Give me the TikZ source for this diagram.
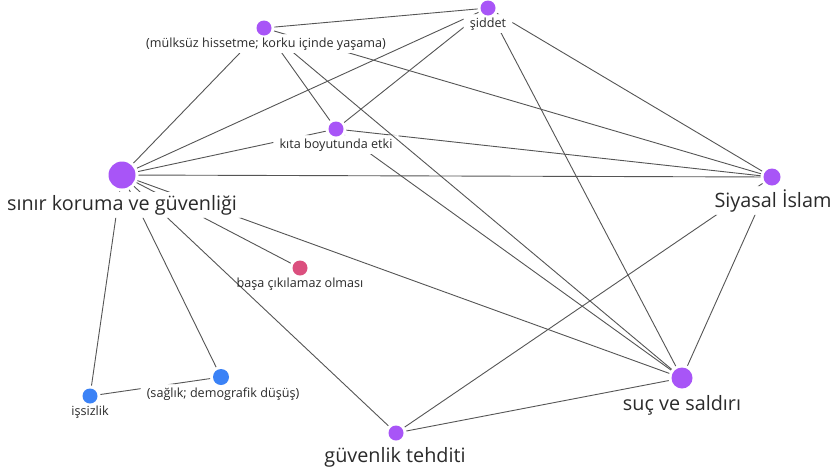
\documentclass[tikz,border=0pt]{standalone}
\usepackage{fontspec}
\setmainfont{Open Sans}
\usetikzlibrary{backgrounds}
\definecolor{cpurple}{HTML}{A855F7}
\definecolor{cpink}{HTML}{DB4F7E}
\definecolor{cblue}{HTML}{3B82F6}
\definecolor{cedge}{HTML}{555555}
\definecolor{ctext}{HTML}{2A2A2A}
\begin{document}
\begin{tikzpicture}[x=1pt,y=-1pt,
  dot/.style={circle,fill=#1,inner sep=0pt,draw=none,outer sep=3pt},
  lab/.style={anchor=base,inner xsep=6pt,inner ysep=3pt,text=ctext},
  small/.style={lab,font=\fontsize{12.6}{15}\selectfont},
  big/.style={lab,font=\fontsize{19.8}{23}\selectfont},
  edge/.style={draw=cedge,line width=0.9pt}]
\useasboundingbox (0,0) rectangle (833,472);

% dots
\node[dot=cpurple,minimum size=15pt] (d-sid) at (488,8) {};
\node[dot=cpurple,minimum size=15pt] (d-mul) at (264,28) {};
\node[dot=cpurple,minimum size=15pt] (d-kit) at (336,129) {};
\node[dot=cpurple,minimum size=27pt] (d-sin) at (122,175) {};
\node[dot=cpurple,minimum size=17pt] (d-siy) at (772,177) {};
\node[dot=cpink,minimum size=15pt] (d-bas) at (300,268) {};
\node[dot=cpurple,minimum size=21pt] (d-suc) at (682,378) {};
\node[dot=cpurple,minimum size=15pt] (d-guv) at (396,433) {};
\node[dot=cblue,minimum size=16pt] (d-sag) at (221,377) {};
\node[dot=cblue,minimum size=15pt] (d-iss) at (90,396) {};

% labels
\node[small] (l-sid) at (488,27) {şiddet};
\node[small] (l-mul) at (266,47) {(mülksüz hissetme; korku içinde yaşama)};
\node[small] (l-kit) at (336,148) {kıta boyutunda etki};
\node[big] (l-sin) at (122,210) {sınır koruma ve güvenliği};
\node[big] (l-siy) at (773,207) {Siyasal İslam};
\node[small] (l-bas) at (300,287) {başa çıkılamaz olması};
\node[big] (l-suc) at (682,410) {suç ve saldırı};
\node[big] (l-guv) at (395,462) {güvenlik tehditi};
\node[small] (l-sag) at (223,397) {(sağlık; demografik düşüş)};
\node[small] (l-iss) at (90,415) {işsizlik};

\begin{scope}[on background layer]
\fill[white] (0,0) rectangle (833,472);
\foreach \a/\b in {mul/sid, mul/sin, mul/kit, mul/suc, mul/siy,
                   sid/sin, sid/kit, sid/siy, sid/suc,
                   kit/sin, kit/siy, kit/suc,
                   sin/siy, sin/bas, sin/suc, sin/guv, sin/sag, sin/iss,
                   iss/sag, siy/guv, siy/suc, guv/suc}
  {
  \begin{scope}[even odd rule]
  \clip (-10,-10) rectangle (843,482)
     (l-\a.south west) rectangle (l-\a.north east)
     (l-\b.south west) rectangle (l-\b.north east);
  \draw[edge] (d-\a) -- (d-\b);
  \end{scope}
  }
\end{scope}
\end{tikzpicture}
\end{document}
